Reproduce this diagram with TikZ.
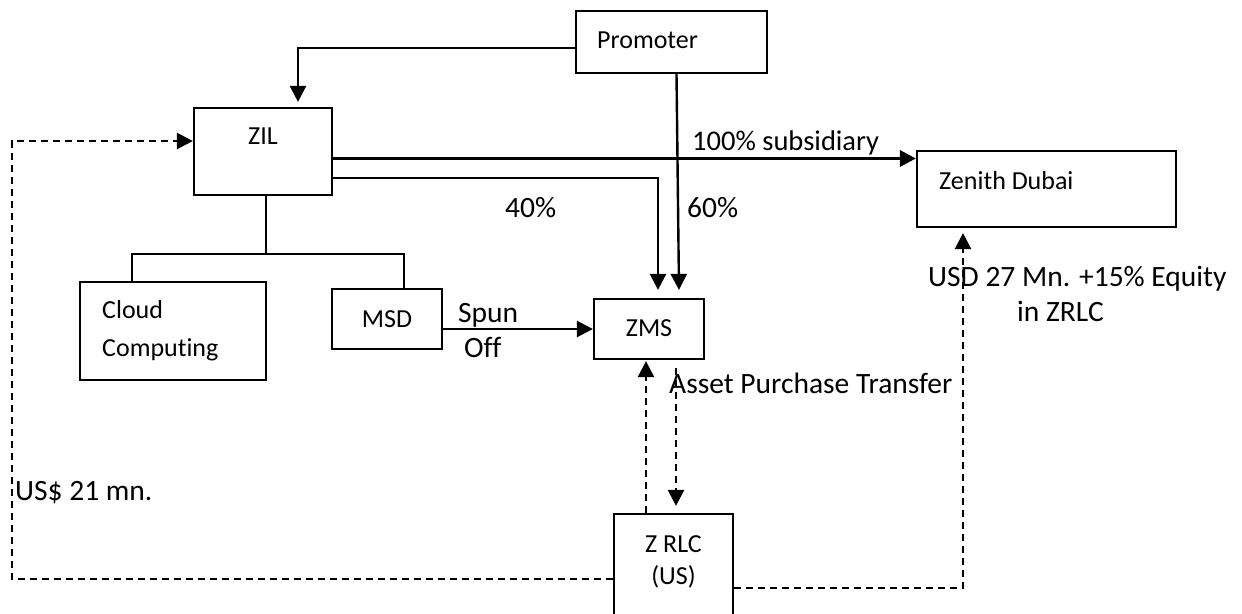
\documentclass[tikz,border=0pt]{standalone}
\usepackage{fontspec}
\setmainfont{Carlito}[Ligatures=NoCommon]
\usetikzlibrary{arrows.meta}
\begin{document}
\begin{tikzpicture}[x=1pt,y=-1pt,
  box/.style={draw, line width=2.2pt, inner sep=0pt},
  bt/.style={font=\fontsize{26}{32}\selectfont, inner sep=0pt},
  lb/.style={font=\fontsize{29.5}{35}\selectfont, inner sep=0pt},
  arr/.style={line width=2.4pt, -{Triangle[length=16pt,width=16pt]}},
  dsh/.style={arr, dash pattern=on 7pt off 5pt},
  ln/.style={line width=2.2pt}]
\clip (0,0) rectangle (1242,613);
% boxes
\node[box, minimum width=191pt, minimum height=62pt] (prom) at (671.5,42) {};
\node[bt, anchor=base west] (promt) at (597,48) {Promoter};
\node[box, minimum width=138pt, minimum height=87pt] (zil) at (263,151.5) {};
\node[bt, anchor=base] (zilt) at (263,144) {ZIL};
\node[box, minimum width=259pt, minimum height=76pt] (zd) at (1046.5,189) {};
\node[bt, anchor=base west] (zdt) at (939,189) {Zenith Dubai};
\node[box, minimum width=186pt, minimum height=98pt] (cc) at (173,331) {};
\node[bt, anchor=base west] (cct1) at (102,318) {Cloud};
\node[bt, anchor=base west] (cct2) at (102,356) {Computing};
\node[box, minimum width=110pt, minimum height=60pt] (msd) at (387,319) {};
\node[bt, anchor=base] (msdt) at (387,327) {MSD};
\node[box, minimum width=110pt, minimum height=60pt] (zms) at (649,329) {};
\node[bt, anchor=base] (zmst) at (649,336) {ZMS};
\node[box, minimum width=119pt, minimum height=120pt] (zrlc) at (673.5,574) {};
\node[bt, anchor=base] (zrt1) at (673.5,552) {Z RLC};
\node[bt, anchor=base] (zrt2) at (673.5,584) {(US)};
% labels
\node[lb, font=\fontsize{28.5}{35}\selectfont, anchor=base west] (l100) at (692,150) {100\% subsidiary};
\node[lb, anchor=base west] (l40) at (505,217) {40\%};
\node[lb, anchor=base west] (l60) at (687,217) {60\%};
\node[lb, anchor=base west] (lsp) at (458,322) {Spun};
\node[lb, anchor=base west] (lof) at (464,357) {Off};
\node[lb, anchor=base west] (lap) at (669,393) {Asset Purchase Transfer};
\node[lb, anchor=base west] (lusd) at (928,286) {USD 27 Mn. +15\% Equity};
\node[lb, anchor=base west] (lin) at (1017,321) {in ZRLC};
\node[lb, anchor=base west] (l21) at (15,500) {US\$ 21 mn.};
% connectors
\draw[arr] ([yshift=-6pt]prom.west) -| ([xshift=35pt,yshift=5pt]zil.north);
\coordinate (z1) at ([yshift=-7pt]zil.east);
\draw[arr, line width=3.2pt] (z1) -- (z1 -| zd.west);
\coordinate (z2) at ([yshift=-26.5pt]zil.east);
\coordinate (zmsA) at ([xshift=9pt,yshift=8pt]zms.north);
\draw[arr] (z2) -| (zmsA);
\draw[arr] ([xshift=5pt]prom.south) -- ([xshift=30pt,yshift=8pt]zms.north);
\coordinate (tj) at (266,254);
\coordinate (tl) at (132,254);
\coordinate (tr) at (404,254);
\draw[ln] (zil.south -| tj) -- (tj);
\draw[ln] (cc.north -| tl) -- (tl) -- (tr) -- (msd.north -| tr);
\draw[arr] (msd.east |- zms.west) -- (zms.west);
\draw[dsh] ([xshift=-27.5pt]zrlc.north) -- ([xshift=-3pt,yshift=-1pt]zms.south);
\draw[dsh] ([xshift=27pt,yshift=-8pt]zms.south) -- ([xshift=2.5pt,yshift=7pt]zrlc.north);
\coordinate (lc) at (12,360);
\draw[dsh] ([yshift=-5pt]zrlc.west) -| (lc) |- ([yshift=10.5pt]zil.west);
\draw[dsh] ([yshift=-14pt]zrlc.east) -| ([xshift=-83.5pt,yshift=-5pt]zd.south);
\end{tikzpicture}
\end{document}
